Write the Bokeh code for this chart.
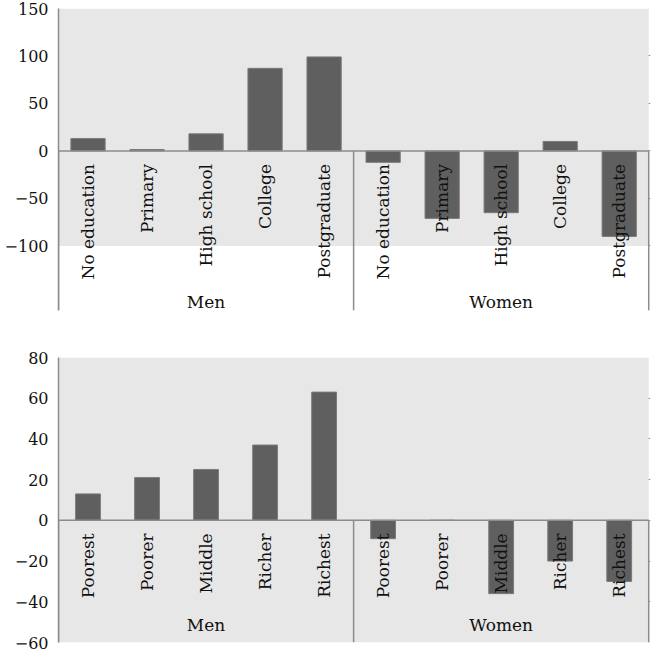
import math
from bokeh.plotting import figure
from bokeh.layouts import column
from bokeh.models import FixedTicker, BoxAnnotation, ColumnDataSource, Range1d
from bokeh.core.properties import value
from bokeh.embed import file_html
from bokeh.resources import INLINE

# ---- data ----
groups = ["Men", "Women"]
edu_levels = ["No education", "Primary", "High school", "College", "Postgraduate"]
edu_men = [13, 1.5, 18, 87, 99]
edu_women = [-12, -71, -65, 10, -90]
edu_ticks = [-100, -50, 0, 50, 100, 150]

wealth_levels = ["Poorest", "Poorer", "Middle", "Richer", "Richest"]
wealth_men = [13, 21, 25, 37, 63]
wealth_women = [-9, 0, -36, -20, -30]
wealth_ticks = [-60, -40, -20, 0, 20, 40, 60, 80]

FONT = "DejaVu Serif"
BAR = "#5f5f5f"
BG = "#e7e7e7"
GRID = "#8c8c8c"


def make_chart(levels, men, women, ticks, y_lo, gray_lo, bar_w, height,
               b_top, b_bottom, b_left, label_off, group_off):
    n = len(levels)
    cats = levels + levels
    vals = men + women
    xs = [i + 0.5 for i in range(2 * n)]
    p = figure(width=653, height=height, output_backend="svg",
               toolbar_location=None, x_range=Range1d(0, 2 * n + 0.03),
               y_range=Range1d(y_lo, ticks[-1]))
    p.min_border_top = b_top
    p.min_border_bottom = b_bottom
    p.min_border_left = b_left
    p.min_border_right = 3
    p.outline_line_color = None
    p.background_fill_color = "white"
    p.border_fill_color = "white"
    p.add_layout(BoxAnnotation(bottom=gray_lo, top=ticks[-1], left=0,
                               right=2 * n, fill_color=BG, fill_alpha=1.0,
                               line_color=None, level="underlay"))
    p.xaxis.visible = False
    p.xgrid.visible = False
    p.ygrid.ticker = FixedTicker(ticks=ticks)
    p.ygrid.grid_line_color = GRID
    p.ygrid.grid_line_width = 1
    ax = p.yaxis[0]
    ax.ticker = FixedTicker(ticks=ticks)
    ax.major_tick_line_color = None
    ax.minor_tick_line_color = None
    ax.major_tick_out = 0
    ax.major_tick_in = 0
    ax.axis_line_color = GRID
    ax.axis_line_width = 1.5
    ax.major_label_text_font = FONT
    ax.major_label_text_font_size = "16px"
    ax.major_label_text_color = "#111111"
    ax.major_label_standoff = 10

    src = ColumnDataSource(dict(x=xs, top=vals, cat=cats))
    p.vbar(x="x", top="top", bottom=0, width=bar_w, source=src,
           fill_color=BAR, line_color="#7a7a7a", line_width=1)

    # category axis at zero and separators
    p.segment(x0=[0], y0=[0], x1=[2 * n], y1=[0], line_color=GRID, line_width=1.5)
    p.segment(x0=[0, n, 2 * n], y0=[0, 0, 0], x1=[0, n, 2 * n],
              y1=[y_lo] * 3, line_color=GRID, line_width=1.5)

    lab = ColumnDataSource(dict(x=xs, y=[0] * len(xs), t=cats))
    p.text(x="x", y="y", text="t", source=lab, angle=math.pi / 2,
           text_align="right", text_baseline="middle", y_offset=label_off,
           text_font=value(FONT), text_font_size="17px", text_color="#111111")
    gsrc = ColumnDataSource(dict(x=[n / 2, n * 1.5], y=[0, 0], t=groups))
    p.text(x="x", y="y", text="t", source=gsrc, text_align="center",
           text_baseline="middle", y_offset=group_off,
           text_font=value(FONT), text_font_size="17px", text_color="#111111")
    return p


p1 = make_chart(edu_levels, edu_men, edu_women, edu_ticks, y_lo=-168,
                gray_lo=edu_ticks[0], bar_w=0.58, height=326, b_top=8,
                b_bottom=16, b_left=58, label_off=13, group_off=151)
p2 = make_chart(wealth_levels, wealth_men, wealth_women, wealth_ticks,
                y_lo=wealth_ticks[0], gray_lo=wealth_ticks[0], bar_w=0.42,
                height=326, b_top=31, b_bottom=10, b_left=53, label_off=13,
                group_off=105)

layout = column(p1, p2, spacing=0)
open("out.html", "w").write(file_html(layout, INLINE))
